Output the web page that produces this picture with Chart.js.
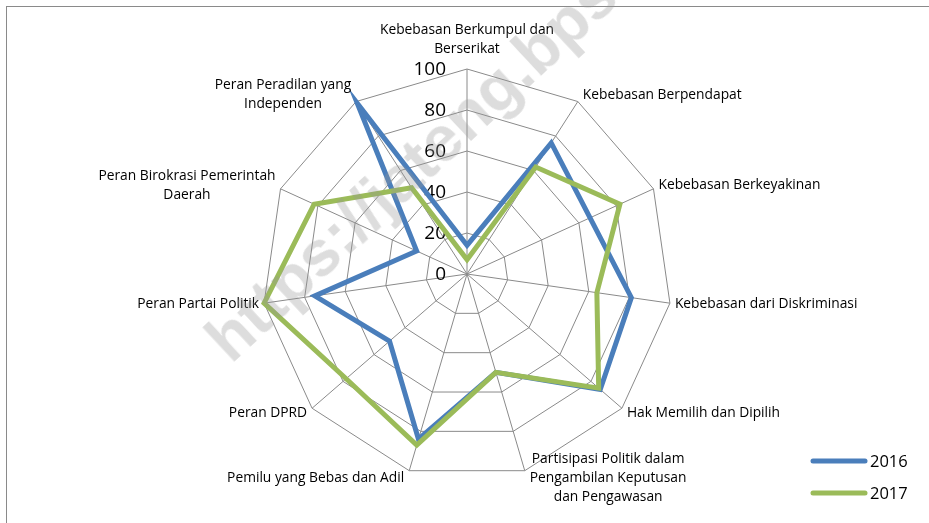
<!DOCTYPE html>
<html>
<head>
<meta charset="utf-8">
<script src="https://cdn.jsdelivr.net/npm/chart.js@4.4.0/dist/chart.umd.min.js"></script>
<style>
  html, body { margin: 0; padding: 0; background: #fff; overflow: hidden; }
  .page { position: relative; width: 929px; height: 523px; overflow: hidden; }
  .frame { position: absolute; left: 6px; top: 6px; width: 960px; height: 560px; border: 1px solid #8a8a8a; }
  .chart-box { position: absolute; left: 0; top: 0; width: 929px; height: 523px; }
  .watermark {
    position: absolute; left: 238px; top: 308px;
    font: bold 64px "Liberation Sans", Arial, sans-serif; line-height: 1;
    color: rgba(150, 150, 150, 0.32); white-space: nowrap;
    transform: rotate(-43deg); transform-origin: 0 100%; pointer-events: none;
  }
</style>
</head>
<body>
<div class="page">
  <div class="frame"></div>
  <div class="chart-box"><canvas id="radar"></canvas></div>
  <div class="watermark">https://jateng.bps.go.id</div>
</div>
<script>
// indikator (searah jarum jam mulai dari atas)
const categories = [
  ['Kebebasan Berkumpul dan', 'Berserikat'],
  'Kebebasan Berpendapat',
  'Kebebasan Berkeyakinan',
  'Kebebasan dari Diskriminasi',
  'Hak Memilih dan Dipilih',
  ['Partisipasi Politik dalam', 'Pengambilan Keputusan', 'dan Pengawasan'],
  'Pemilu yang Bebas dan Adil',
  'Peran DPRD',
  'Peran Partai Politik',
  ['Peran Birokrasi Pemerintah', 'Daerah'],
  ['Peran Peradilan yang', 'Independen']
];
const values2016 = [14, 76, 66, 81, 86, 50, 84, 50, 75, 27, 99];
const values2017 = [7, 62, 82, 64, 85, 50, 87, 78, 100, 82, 50];
const tickValues = [0, 20, 40, 60, 80, 100];

const labelFont = '13.8px "Open Sans", sans-serif';
const tickFont = '19px "Open Sans", sans-serif';
const legendFont = '16.5px "Open Sans", sans-serif';

// angka sumbu di kiri garis atas, di bawah garis data
const tickLabelPlugin = {
  id: 'tickLabels',
  beforeDatasetsDraw(chart) {
    const scale = chart.scales.r;
    const ctx = chart.ctx;
    ctx.save();
    ctx.font = tickFont;
    ctx.fillStyle = '#000';
    ctx.textAlign = 'right';
    ctx.textBaseline = 'middle';
    tickValues.forEach(v => {
      const p = scale.getPointPositionForValue(0, v);
      ctx.fillText(String(v), p.x - 21, p.y + 1);
    });
    ctx.restore();
  }
};

// label kategori di luar poligon
const pointLabelPlugin = {
  id: 'catLabels',
  afterDraw(chart) {
    const scale = chart.scales.r;
    const ctx = chart.ctx;
    const lineH = 19;
    ctx.save();
    ctx.font = labelFont;
    ctx.fillStyle = '#000';
    ctx.textBaseline = 'middle';
    ctx.textAlign = 'center';
    categories.forEach((lab, i) => {
      const lines = Array.isArray(lab) ? lab : [lab];
      const p = scale.getPointPosition(i, scale.drawingArea);
      const cos = Math.cos(p.angle);
      const sin = Math.sin(p.angle);
      const w = Math.max(...lines.map(l => ctx.measureText(l).width));
      const h = lines.length * lineH;
      let cx, cy;
      if (Math.abs(cos) < 0.05) {
        cx = p.x;
        cy = sin < 0 ? p.y - 10 - h / 2 : p.y + 10 + h / 2;
      } else {
        cx = cos > 0 ? p.x + 5 + w / 2 : p.x - 5 - w / 2;
        cy = p.y + 8 * sin;
      }
      lines.forEach((l, k) => {
        ctx.fillText(l, cx, cy - h / 2 + lineH * (k + 0.5));
      });
    });
    ctx.restore();
  }
};

// legenda di kanan bawah
const legendPlugin = {
  id: 'sideLegend',
  afterDraw(chart) {
    const ctx = chart.ctx;
    ctx.save();
    ctx.font = legendFont;
    ctx.textBaseline = 'middle';
    ctx.textAlign = 'left';
    chart.data.datasets.forEach((ds, i) => {
      const y = 461 + i * 32;
      ctx.strokeStyle = ds.borderColor;
      ctx.lineWidth = 5;
      ctx.lineCap = 'round';
      ctx.beginPath();
      ctx.moveTo(813, y);
      ctx.lineTo(865, y);
      ctx.stroke();
      ctx.fillStyle = '#000';
      ctx.fillText(ds.label, 870, y + 1);
    });
    ctx.restore();
  }
};

const ctx = document.getElementById('radar').getContext('2d');
new Chart(ctx, {
  type: 'radar',
  data: {
    labels: categories,
    datasets: [
      {
        label: '2016',
        data: values2016,
        borderColor: '#4A7EBB',
        borderWidth: 5,
        pointRadius: 0,
        fill: false,
        order: 2,
        clip: false
      },
      {
        label: '2017',
        data: values2017,
        borderColor: '#9BBB59',
        borderWidth: 5,
        pointRadius: 0,
        fill: false,
        order: 1,
        clip: false
      }
    ]
  },
  options: {
    responsive: true,
    maintainAspectRatio: false,
    animation: false,
    layout: {
      padding: { left: 262, right: 257, top: 69, bottom: 44 }
    },
    scales: {
      r: {
        min: 0,
        max: 100,
        ticks: { stepSize: 20, display: false },
        grid: { color: '#8a8a8a', lineWidth: 1 },
        angleLines: { color: '#8a8a8a', lineWidth: 1 },
        pointLabels: { display: false }
      }
    },
    plugins: {
      legend: { display: false },
      tooltip: { enabled: false }
    }
  },
  plugins: [tickLabelPlugin, pointLabelPlugin, legendPlugin]
});
</script>
</body>
</html>
